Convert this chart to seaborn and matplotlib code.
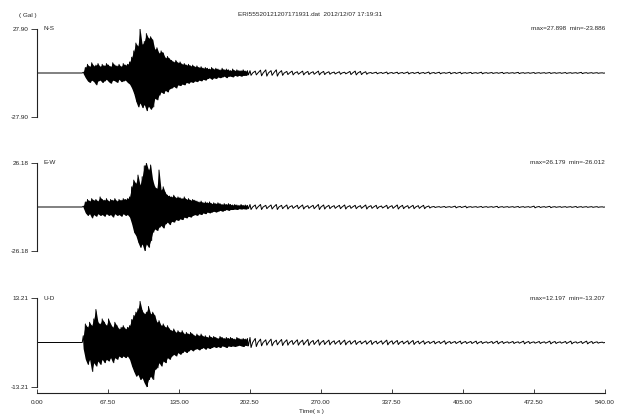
import numpy as np
import pandas as pd
import seaborn as sns
import matplotlib.pyplot as plt

# Record info
TITLE = "ERI55520121207171931.dat  2012/12/07 17:19:31"
COMPONENTS = ["N-S", "E-W", "U-D"]
LIMITS = [27.90, 26.18, 13.21]
MAX_VALUES = [27.898, 26.179, 12.197]
MIN_VALUES = [-23.886, -26.012, -13.207]
X_TICKS = [0.0, 67.5, 135.0, 202.5, 270.0, 337.5, 405.0, 472.5, 540.0]

# Envelope of the strong-motion part, read every 2 s (t = 44 ... 200 s), Gal
ACTIVE_T = list(range(44, 201, 2))
ns_up = [0.5, 3.5, 5.5, 4.0, 6.5, 4.5, 5.0, 6.0, 4.0, 5.5,
         4.5, 6.0, 5.0, 4.0, 6.5, 5.0, 4.5, 5.5, 4.0, 6.0,
         5.0, 5.5, 7.0, 10.0, 14.0, 19.0, 17.0, 27.9, 18.0, 20.0,
         25.0, 22.0, 23.0, 21.0, 15.0, 16.0, 12.5, 14.0, 12.7, 9.5,
         10.5, 9.0, 8.0, 7.0, 8.0, 6.5, 7.0, 5.5, 6.0, 5.0,
         5.5, 4.5, 5.0, 4.0, 4.5, 3.5, 4.0, 3.0, 3.5, 3.0,
         2.5, 3.5, 2.5, 3.0, 2.5, 2.0, 3.0, 2.0, 2.5, 2.0,
         1.5, 2.5, 1.5, 2.0, 1.5, 1.5, 2.0, 1.2, 1.5]
ns_lo = [-0.5, -3.0, -5.0, -6.0, -4.5, -5.5, -7.5, -5.0, -4.5, -6.0,
         -5.0, -4.0, -5.5, -6.5, -4.5, -5.0, -6.0, -4.0, -5.5, -5.0,
         -4.5, -6.0, -7.0, -9.5, -13.0, -18.0, -21.5, -19.0, -22.0, -20.0,
         -23.9, -21.0, -23.0, -21.5, -16.0, -17.0, -14.0, -12.0, -13.0, -11.0,
         -12.0, -10.0, -9.5, -8.5, -9.5, -7.5, -8.0, -7.0, -7.5, -6.0,
         -6.5, -5.5, -6.0, -5.0, -5.5, -4.5, -5.0, -4.0, -4.5, -3.5,
         -3.0, -4.0, -3.0, -3.5, -2.5, -3.0, -2.5, -2.0, -3.0, -2.0,
         -2.0, -2.5, -1.5, -2.0, -1.5, -2.0, -1.5, -1.5, -1.2]
ew_up = [0.5, 3.0, 4.5, 3.5, 5.0, 4.0, 4.5, 3.5, 6.0, 4.5,
         4.0, 5.0, 3.5, 4.5, 4.0, 5.0, 3.5, 4.5, 4.0, 5.0,
         4.5, 5.0, 6.0, 12.0, 16.0, 14.0, 19.0, 13.0, 18.0, 24.5,
         26.2, 22.0, 25.0, 16.0, 12.0, 11.0, 22.0, 10.0, 12.0, 8.5,
         7.0, 6.5, 6.0, 7.0, 5.5, 6.0, 5.5, 5.0, 6.0, 4.5,
         5.0, 4.0, 4.5, 4.0, 3.5, 3.0, 3.5, 2.5, 3.0, 2.5,
         3.0, 2.0, 2.5, 2.0, 2.5, 2.0, 1.5, 2.0, 1.5, 2.0,
         1.5, 1.2, 1.5, 1.2, 1.0, 1.5, 1.0, 1.2, 1.0]
ew_lo = [-0.5, -3.5, -5.0, -4.0, -6.5, -4.5, -5.5, -4.0, -5.0, -4.5,
         -5.5, -4.0, -5.0, -4.5, -6.0, -4.0, -5.0, -4.5, -5.5, -4.0,
         -5.0, -4.5, -6.0, -10.0, -15.0, -17.0, -21.0, -24.0, -22.0, -26.0,
         -22.0, -24.0, -20.0, -15.0, -13.0, -14.0, -12.0, -11.0, -12.5, -10.0,
         -9.0, -10.5, -8.5, -9.0, -7.5, -8.0, -7.0, -7.5, -6.0, -6.5,
         -5.5, -6.0, -5.0, -4.5, -5.0, -4.0, -4.5, -3.5, -4.0, -3.0,
         -3.5, -3.0, -2.5, -3.0, -2.5, -2.0, -2.5, -2.0, -1.5, -2.0,
         -1.5, -1.5, -1.2, -1.5, -1.0, -1.2, -1.0, -1.2, -1.0]
ud_up = [2.0, 5.5, 4.5, 6.0, 5.0, 7.0, 9.8, 6.0, 5.5, 7.0,
         6.0, 5.0, 7.0, 5.5, 4.5, 6.0, 5.0, 4.0, 4.5, 5.0,
         4.0, 4.5, 5.0, 6.8, 8.0, 9.0, 10.0, 12.2, 9.5, 8.5,
         9.0, 10.7, 8.5, 9.0, 8.0, 6.0, 6.5, 5.0, 5.5, 4.5,
         5.0, 4.0, 3.5, 4.0, 3.0, 3.5, 3.0, 3.5, 2.5, 3.0,
         2.5, 3.0, 2.5, 2.0, 2.5, 2.0, 2.5, 1.8, 2.0, 1.5,
         2.0, 1.5, 1.8, 1.5, 1.2, 1.8, 1.5, 1.2, 1.5, 1.2,
         1.5, 1.2, 1.0, 1.5, 1.2, 1.0, 1.2, 1.0, 1.2]
ud_lo = [-2.0, -5.0, -6.5, -5.0, -8.6, -6.0, -7.0, -5.5, -6.5, -5.0,
         -6.0, -5.0, -5.5, -4.5, -6.0, -4.5, -5.0, -4.0, -4.5, -4.0,
         -4.5, -4.0, -5.0, -7.0, -8.6, -10.0, -9.5, -11.0, -10.5, -12.0,
         -13.2, -11.0, -10.0, -11.0, -8.0, -7.5, -6.0, -7.0, -5.5, -6.0,
         -4.5, -5.0, -4.0, -3.5, -4.0, -3.0, -3.5, -3.0, -2.5, -3.0,
         -2.5, -2.0, -2.5, -2.0, -1.8, -2.2, -1.8, -1.5, -2.0, -1.5,
         -1.8, -1.5, -1.2, -1.5, -1.2, -1.5, -1.0, -1.2, -1.5, -1.0,
         -1.2, -1.0, -1.2, -1.0, -0.8, -1.0, -1.2, -0.8, -1.0]

# Coda amplitude, read every 5 s (t = 205 ... 540 s), Gal
TAIL_T = list(range(205, 541, 5))
ns_tail = [1.5, 1.2, 1.8, 2.0, 1.5, 2.0, 1.5, 1.0, 1.2, 0.8,
           1.2, 1.0, 0.8, 1.2, 1.0, 0.8, 0.6, 0.8, 0.5, 1.0,
           1.2, 1.0, 0.8, 0.3, 0.5, 0.3, 0.6, 0.3, 0.5, 0.3,
           0.6, 0.3, 0.5, 0.3, 0.6, 0.3, 0.5, 0.2, 0.5, 0.3,
           0.5, 0.2, 0.4, 0.2, 0.5, 0.2, 0.3, 0.2, 0.4, 0.2,
           0.2, 0.4, 0.2, 0.2, 0.3, 0.2, 0.2, 0.3, 0.2, 0.2,
           0.3, 0.2, 0.2, 0.4, 0.2, 0.2, 0.2, 0.1]
ew_tail = [1.5, 1.2, 1.5, 1.0, 1.2, 1.5, 1.0, 1.2, 0.8, 1.0,
           1.2, 0.8, 1.0, 1.5, 1.2, 1.0, 0.8, 1.0, 1.2, 0.8,
           1.0, 0.8, 1.2, 0.8, 1.0, 0.6, 1.0, 0.8, 1.2, 1.0,
           0.8, 1.0, 0.8, 1.0, 0.6, 0.3, 0.2, 0.3, 0.2, 0.5,
           0.3, 0.5, 0.2, 0.2, 0.3, 0.2, 0.2, 0.4, 0.2, 0.2,
           0.2, 0.3, 0.2, 0.2, 0.5, 0.3, 0.2, 0.4, 0.2, 0.2,
           0.2, 0.2, 0.3, 0.2, 0.2, 0.2, 0.2, 0.1]
ud_tail = [1.5, 1.2, 1.0, 0.8, 1.0, 0.7, 0.9, 0.8, 0.6, 0.8,
           0.7, 0.9, 0.6, 0.8, 0.6, 0.7, 0.5, 0.6, 0.7, 0.5,
           0.6, 0.4, 0.5, 0.6, 0.4, 0.5, 0.7, 0.5, 0.6, 0.4,
           0.5, 0.6, 0.4, 0.5, 0.3, 0.4, 0.3, 0.5, 0.3, 0.3,
           0.4, 0.3, 0.3, 0.4, 0.3, 0.2, 0.3, 0.4, 0.3, 0.2,
           0.3, 0.2, 0.4, 0.3, 0.2, 0.3, 0.2, 0.4, 0.3, 0.2,
           0.3, 0.4, 0.2, 0.3, 0.4, 0.3, 0.2, 0.1]

UPPER = [ns_up, ew_up, ud_up]
LOWER = [ns_lo, ew_lo, ud_lo]
TAILS = [ns_tail, ew_tail, ud_tail]


def build_trace(up, lo, tail):
    # zigzag between the read peaks so the trace looks like a waveform
    t = [0.0, 43.0]
    a = [0.0, 0.0]
    for ti, u, l in zip(ACTIVE_T, up, lo):
        t += [ti, ti + 1.0]
        a += [u, l]
    # coda: short wiggles separated by quieter stretches
    for ti, amp in zip(TAIL_T, tail):
        t += [ti - 2.5, ti - 1.5, ti]
        a += [amp, -amp, 0.0]
    return pd.DataFrame({"time": t, "acc": a})


def main():
    sns.set_theme(style="white")
    plt.rcParams["font.family"] = ["Liberation Sans", "DejaVu Sans"]
    fs = 4.6

    fig = plt.figure(figsize=(6.24, 4.2), dpi=100)
    left, width = 37 / 624, 568 / 624
    tops = [29, 163, 298]
    bottoms = [117, 251, 387]

    for i, comp in enumerate(COMPONENTS):
        ax = fig.add_axes([left, 1 - bottoms[i] / 420, width,
                           (bottoms[i] - tops[i]) / 420])
        # solid body of the strong motion, then the jagged trace on top
        ax.fill_between(ACTIVE_T, LOWER[i], UPPER[i], color="black", lw=0)
        df = build_trace(UPPER[i], LOWER[i], TAILS[i])
        sns.lineplot(data=df, x="time", y="acc", ax=ax, color="black",
                     lw=0.7, estimator=None, sort=False)
        lim = LIMITS[i]
        ax.set_xlim(0, 540)
        ax.set_ylim(-lim, lim)
        ax.set_xlabel("")
        ax.set_ylabel("")
        for s in ["top", "right"]:
            ax.spines[s].set_visible(False)
        ax.spines["left"].set_color("#222222")
        ax.spines["left"].set_linewidth(0.8)
        ax.set_yticks([-lim, lim])
        ax.set_yticklabels([f"-{lim:.2f}", f"{lim:.2f}"])
        ax.tick_params(axis="y", left=True, direction="out", length=4,
                       width=0.6, pad=2, labelsize=fs, colors="#222222")

        if i < 2:
            ax.spines["bottom"].set_visible(False)
            ax.set_xticks([])
        else:
            ax.spines["bottom"].set_position(("outward", 4.3))
            ax.spines["bottom"].set_color("#222222")
            ax.spines["bottom"].set_linewidth(0.8)
            ax.set_xticks(X_TICKS)
            ax.set_xticklabels([f"{v:.2f}" for v in X_TICKS])
            ax.tick_params(axis="x", bottom=True, direction="in", length=3,
                           width=0.6, pad=5, labelsize=fs, colors="#222222")

        ax.text(0.012, 1.0, comp, transform=ax.transAxes, fontsize=fs,
                ha="left", va="center")
        ax.text(1.0, 1.0, f"max={MAX_VALUES[i]:.3f}  min={MIN_VALUES[i]:.3f}",
                transform=ax.transAxes, fontsize=fs, ha="right", va="center")

    fig.text(310 / 624, 1 - 14 / 420, TITLE, fontsize=fs, ha="center", va="center")
    fig.text(28 / 624, 1 - 16 / 420, "( Gal )", fontsize=fs, ha="center", va="center")
    fig.text(311 / 624, 1 - 412 / 420, "Time( s )", fontsize=fs, ha="center", va="center")

    fig.savefig("out.png", dpi=100)
    plt.close(fig)


if __name__ == "__main__":
    main()
